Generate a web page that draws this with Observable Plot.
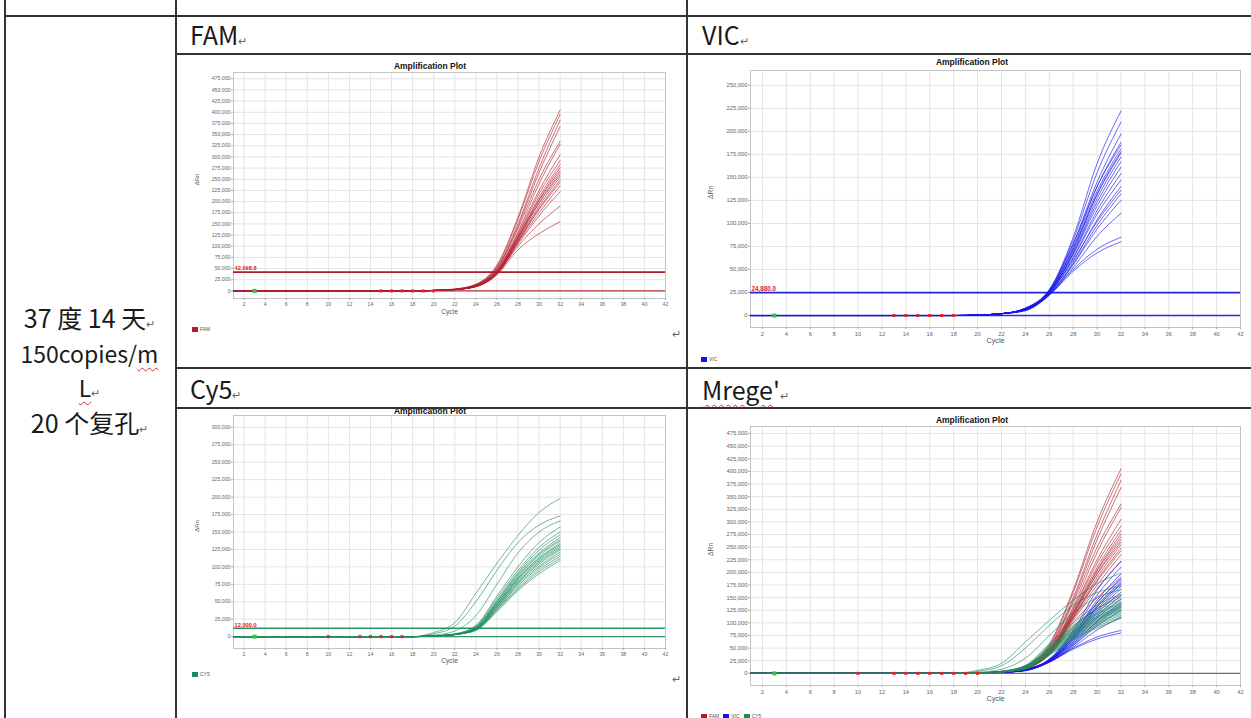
<!DOCTYPE html>
<html><head><meta charset="utf-8">
<script src="https://cdn.jsdelivr.net/npm/d3@7"></script>
<script src="https://cdn.jsdelivr.net/npm/@observablehq/plot@0.6"></script>
<style>
html,body{margin:0;padding:0;background:#fff;width:1251px;height:718px;overflow:hidden;}
body{position:relative;font-family:"Liberation Sans",Arial,sans-serif;}
.hl{position:absolute;height:1.5px;background:#333;z-index:5;}
.vl{position:absolute;width:1.5px;background:#333;z-index:5;}
.hdrrow{position:absolute;background:#fff;z-index:3;}
.hdr{position:absolute;font-family:"Noto Sans CJK SC","Noto Sans",sans-serif;font-size:25px;color:#1a1a1a;line-height:1;white-space:nowrap;z-index:4;}
.ret{font-size:11px;color:#666;}
.lbl{position:absolute;left:4px;width:171px;text-align:center;font-family:"Noto Sans CJK SC","Noto Sans",sans-serif;font-size:25px;color:#1a1a1a;line-height:1;white-space:nowrap;}
.wavy{text-decoration:underline wavy #d03030;text-decoration-thickness:1px;text-underline-offset:4px;}
.title{position:absolute;font:bold 8.5px "Liberation Sans",Arial,sans-serif;color:#111;transform:translate(-50%,-50%);white-space:nowrap;z-index:2;}
.leg{position:absolute;font:5px "Liberation Sans",Arial,sans-serif;color:#555;white-space:nowrap;line-height:6px;}
.sw{display:inline-block;width:6px;height:5px;vertical-align:middle;margin-right:2px;}
.chart{position:absolute;z-index:1;}
</style></head><body>
<div id="root"></div>
<script>
// ---------- data (values in thousands of ΔRn) ----------
const cycles = [1, 18, 20, 22, 24, 26, 28, 30, 32];
const xTicks = [2,4,6,8,10,12,14,16,18,20,22,24,26,28,30,32,34,36,38,40,42];

const famCurves = [
  [0,0,1,4,15,58,165,300,405],
  [0,0,1,4,14,55,160,290,395],
  [0,0,1,4,14,52,150,275,382],
  [0,0,1,3,13,50,145,265,368],
  [0,0,1,3,13,50,140,250,335],
  [0,0,1,3,12,47,132,240,328],
  [0,0,1,3,12,46,128,225,305],
  [0,0,1,3,12,45,125,218,292],
  [0,0,1,3,11,44,122,210,283],
  [0,0,1,3,11,42,118,205,276],
  [0,0,1,3,11,43,120,203,270],
  [0,0,1,3,10,40,115,198,265],
  [0,0,1,3,11,42,118,196,260],
  [0,0,1,3,10,40,112,190,255],
  [0,0,1,3,10,39,110,185,248],
  [0,0,1,3,10,40,112,182,243],
  [0,0,1,3,10,38,108,175,235],
  [0,0,1,3,10,38,105,168,222],
  [0,0,1,3,10,38,100,150,190],
  [0,0,1,3,9,36,92,128,155]
];
const vicCurves = [
  [0,0,0.5,2,8,28,85,165,222],
  [0,0,0.5,2,8,27,82,155,210],
  [0,0,0.5,2,7,27,78,145,197],
  [0,0,0.5,2,7,26,75,140,188],
  [0,0,0.5,2,8,28,78,140,185],
  [0,0,0.5,2,7,26,73,135,181],
  [0,0,0.5,2,7,25,70,132,178],
  [0,0,0.5,2,7,26,72,131,176],
  [0,0,0.5,2,7,25,68,127,172],
  [0,0,0.5,2,7,25,67,123,167],
  [0,0,0.5,2,7,25,66,119,161],
  [0,0,0.5,2,6,24,63,114,154],
  [0,0,0.5,2,6,24,62,110,147],
  [0,0,0.5,2,6,23,58,104,140],
  [0,0,0.5,2,7,25,60,102,136],
  [0,0,0.5,2,6,23,56,98,132],
  [0,0,0.5,2,6,23,55,94,125],
  [0,0,0.5,2,6,22,52,86,111],
  [0,0,0.5,2,6,23,50,72,85],
  [0,0,0.5,2,5,22,48,68,80]
];
const cy5Curves = [
  [0,0,6,20,62,105,145,178,198],
  [0,0,4,15,50,95,135,160,173],
  [0,0,2,8,30,75,120,150,166],
  [0,0,1,4,16,58,100,135,157],
  [0,0,1,4,15,55,95,128,150],
  [0,0,1,3,14,52,92,124,146],
  [0,0,1,3,13,50,90,120,142],
  [0,0,1,3,13,50,88,118,139],
  [0,0,1,3,12,48,86,116,137],
  [0,0,1,3,12,47,84,113,134],
  [0,0,1,3,12,46,83,112,132],
  [0,0,1,3,11,45,82,110,130],
  [0,0,1,3,11,44,80,108,128],
  [0,0,1,3,11,43,78,106,126],
  [0,0,1,3,10,42,77,104,124],
  [0,0,1,3,10,40,75,101,121],
  [0,0,1,3,10,40,73,99,118],
  [0,0,1,3,10,39,70,96,115],
  [0,0,1,3,9,37,68,93,112],
  [0,0,1,3,9,36,66,90,109]
];
const famThreshold = 42098.8, vicThreshold = 24880.0, cy5Threshold = 12000.0;
const famMarkers = [15,16,17,18,19,20];
const vicMarkers = [13,14,15,16,17,18];
const cy5Markers = [10,13,14,15,16,17];
const mergeMarkers = [10,13,14,15,16,17,18,19,20];
const startMarker = [3];
const ticks475 = d3.range(0, 475001, 25000);
const ticks250 = d3.range(0, 250001, 25000);
const ticks300 = d3.range(0, 300001, 25000);

const COL = {fam:"#b01e2c", vic:"#1414e6", cy5:"#1f8c5c"};

// ---------- page frame ----------
const root = document.getElementById("root");
function div(cls, style, html){ const d=document.createElement("div"); d.className=cls; Object.assign(d.style, style); if(html!=null) d.innerHTML=html; root.appendChild(d); return d; }

// header rows backgrounds (cover anything above cell tops)
div("hdrrow",{left:"176px",top:"0px",width:"1075px",height:"53px"});
div("hdrrow",{left:"176px",top:"368px",width:"1075px",height:"39px"});

// borders
div("vl",{left:"4px",top:"0px",height:"718px"});
div("vl",{left:"175px",top:"0px",height:"718px"});
div("vl",{left:"686px",top:"0px",height:"718px"});
div("hl",{left:"4px",top:"15px",width:"1247px"});
div("hl",{left:"175px",top:"53px",width:"1076px"});
div("hl",{left:"175px",top:"367px",width:"1076px"});
div("hl",{left:"175px",top:"407px",width:"1076px"});

// headers
div("hdr",{left:"190px",top:"22px"},'FAM<span class="ret">↵</span>');
div("hdr",{left:"702px",top:"22px"},'VIC<span class="ret">↵</span>');
div("hdr",{left:"190px",top:"376px"},'Cy5<span class="ret">↵</span>');
div("hdr",{left:"702px",top:"377px"},'<span class="wavy">Mrege</span>\'<span class="ret">↵</span>');

// left label cell
div("lbl",{top:"305px"},'37 度 14 天<span class="ret">↵</span>');
div("lbl",{top:"342px",fontSize:"23px"},'150copies/<span class="wavy">m</span>');
div("lbl",{top:"376px",fontSize:"23px"},'<span class="wavy">L</span><span class="ret">↵</span>');
div("lbl",{top:"410px"},'20 个复孔<span class="ret">↵</span>');

// titles
div("title",{left:"430px",top:"66px"},"Amplification Plot");
div("title",{left:"972px",top:"62px"},"Amplification Plot");
div("title",{left:"430px",top:"411px"},"Amplification Plot");
div("title",{left:"972px",top:"420px"},"Amplification Plot");

// legends
function legend(x,y,items){ div("leg",{left:x+"px",top:y+"px"}, items.map(([c,t])=>`<span class="sw" style="background:${c}"></span>${t}`).join('<span style="display:inline-block;width:4px"></span>')); }
legend(192,326,[[COL.fam,"FAM"]]);
legend(701,356,[[COL.vic,"VIC"]]);
legend(192,671,[[COL.cy5,"CY5"]]);
legend(701,713,[[COL.fam,"FAM"],[COL.vic,"VIC"],[COL.cy5,"CY5"]]);

// return marks in cells
div("leg",{left:"672px",top:"329px",fontSize:"11px",color:"#666",lineHeight:"11px"},"↵");
div("leg",{left:"672px",top:"674px",fontSize:"11px",color:"#666",lineHeight:"11px"},"↵");

// ---------- charts ----------
function tidy(curves, key){
  const rows=[];
  curves.forEach((c,i)=>c.forEach((v,j)=>rows.push({curve:key+i, cycle:cycles[j], value:v*1000})));
  return rows;
}
function panel(cfg){
  const W = cfg.ml + cfg.fw + cfg.mr, H = cfg.mt + cfg.fh + cfg.mb;
  const marks = [
    Plot.gridX(xTicks,{stroke:"#e4e4e4",strokeOpacity:1}),
    Plot.gridY(cfg.yTicks,{stroke:"#e4e4e4",strokeOpacity:1}),
    Plot.frame({stroke:"#c4c4c4"}),
    Plot.axisX(xTicks,{tickSize:2,tickPadding:2,fontSize:cfg.fs,fill:"#666",stroke:"#aaa",label:null}),
    Plot.axisY(cfg.yTicks,{tickSize:2,tickPadding:1,fontSize:cfg.fs,fill:"#666",stroke:"#aaa",tickFormat:d3.format(","),label:null}),
    Plot.text(["Cycle"],{frameAnchor:"bottom",dy:cfg.cycleDy,fontSize:cfg.fs+1.5,fill:"#555"}),
    Plot.text(["ΔRn"],{frameAnchor:"left",dx:-cfg.drnDx,rotate:-90,fontSize:cfg.fs+1,fill:"#555"})
  ];
  if(cfg.threshold!=null) marks.push(Plot.ruleY([cfg.threshold],{stroke:cfg.thrColor,strokeWidth:1.6}));
  cfg.series.forEach(s=>{
    marks.push(Plot.line(s.rows,{x:"cycle",y:"value",z:"curve",stroke:s.color,strokeWidth:0.9,strokeOpacity:0.7,curve:"monotone-x"}));
  });
  marks.push(Plot.ruleY([0],{stroke:cfg.baseColor,strokeWidth:1.4,strokeOpacity:0.9}));
  marks.push(Plot.dot(cfg.markers,{x:d=>d,y:0,symbol:"square",r:1.7,fill:"#e02424",stroke:null}));
  marks.push(Plot.dot(startMarker,{x:d=>d,y:0,symbol:"square",r:2.3,fill:"#36c24a",stroke:null}));
  if(cfg.threshold!=null) marks.push(Plot.text([cfg.thrLabel],{x:1,y:cfg.threshold,text:d=>d,dx:1,dy:-3.5,textAnchor:"start",fill:"#e02020",fontSize:cfg.fs+0.5,fontWeight:"bold"}));
  const svg = Plot.plot({
    width:W,height:H,
    marginLeft:cfg.ml,marginRight:cfg.mr,marginTop:cfg.mt,marginBottom:cfg.mb,
    x:{domain:[1,42]},
    y:{domain:cfg.yDomain},
    style:{fontFamily:"Liberation Sans, Arial, sans-serif",background:"transparent",overflow:"visible"},
    marks
  });
  const wrap = document.createElement("div");
  wrap.className="chart";
  wrap.style.left=(cfg.fx-cfg.ml)+"px";
  wrap.style.top=(cfg.fy-cfg.mt)+"px";
  wrap.appendChild(svg);
  root.appendChild(wrap);
}

const famRows = tidy(famCurves,"f"), vicRows = tidy(vicCurves,"v"), cy5Rows = tidy(cy5Curves,"c");

panel({fx:233,fy:72,fw:432,fh:226,ml:46,mr:6,mt:6,mb:26,fs:5.2,
  yDomain:[-17000,489000],yTicks:ticks475,threshold:famThreshold,thrColor:"#a81c2a",thrLabel:"42,098.8",
  series:[{rows:famRows,color:COL.fam}],baseColor:COL.fam,markers:famMarkers,cycleDy:15,drnDx:36});
panel({fx:750,fy:70,fw:490,fh:257,ml:50,mr:6,mt:6,mb:26,fs:5.8,
  yDomain:[-13000,266000],yTicks:ticks250,threshold:vicThreshold,thrColor:"#2424d8",thrLabel:"24,880.0",
  series:[{rows:vicRows,color:COL.vic}],baseColor:COL.vic,markers:vicMarkers,cycleDy:15,drnDx:40});
panel({fx:233,fy:415,fw:432,fh:233,ml:46,mr:6,mt:6,mb:26,fs:5.2,
  yDomain:[-17000,317000],yTicks:ticks300,threshold:cy5Threshold,thrColor:"#1f9a62",thrLabel:"12,000.0",
  series:[{rows:cy5Rows,color:COL.cy5}],baseColor:COL.cy5,markers:cy5Markers,cycleDy:14,drnDx:36});
panel({fx:750,fy:426,fw:490,fh:259,ml:50,mr:6,mt:6,mb:26,fs:5.8,
  yDomain:[-24000,489000],yTicks:ticks475,threshold:null,
  series:[{rows:famRows,color:COL.fam},{rows:vicRows,color:COL.vic},{rows:cy5Rows,color:COL.cy5}],
  baseColor:"#8a4a6a",markers:mergeMarkers,cycleDy:15,drnDx:40});
</script>
</body></html>
